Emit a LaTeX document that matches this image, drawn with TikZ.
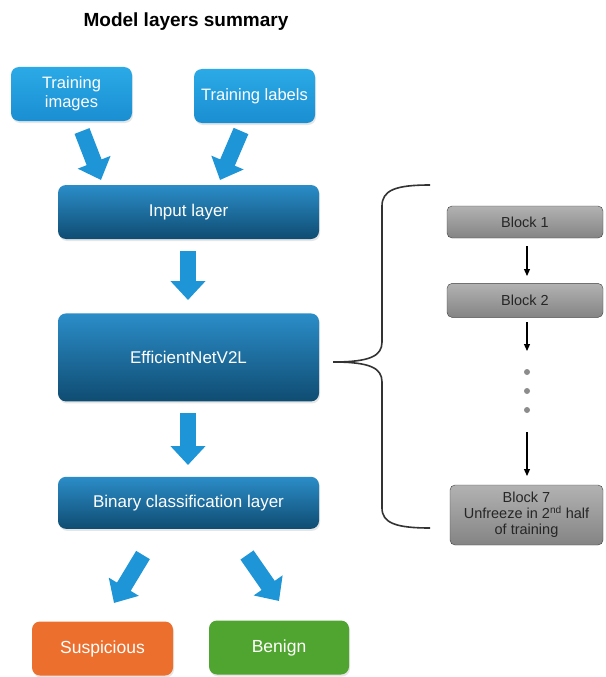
\documentclass[tikz,border=0pt]{standalone}
\usepackage{fontspec}
\setmainfont{Liberation Sans}
\usetikzlibrary{arrows.meta, positioning, shadows}

\definecolor{lightblueTop}{HTML}{2BAAE6}
\definecolor{lightblueBot}{HTML}{1A8ED2}
\definecolor{darkblueTop}{HTML}{2B8DC8}
\definecolor{darkblueBot}{HTML}{0F4C72}
\definecolor{greyTop}{HTML}{B2B2B2}
\definecolor{greyBot}{HTML}{848484}
\definecolor{fatblue}{HTML}{1E95D6}
\definecolor{susporange}{HTML}{EC6F2D}
\definecolor{benigngreen}{HTML}{4FA52F}

\tikzset{
  inputbox/.style={rounded corners=8pt, top color=lightblueTop, bottom color=lightblueBot,
    text=white, font=\fontsize{16.5}{19}\selectfont, align=center,
    minimum width=121pt, minimum height=54pt,
    drop shadow={opacity=0.2, shadow xshift=1pt, shadow yshift=-2pt}},
  layerbox/.style={rounded corners=8pt, top color=darkblueTop, bottom color=darkblueBot,
    text=white, font=\fontsize{17}{19}\selectfont, align=center, minimum width=261pt,
    drop shadow={opacity=0.2, shadow xshift=1pt, shadow yshift=-2pt}},
  outbox/.style={rounded corners=8pt, text=white, font=\fontsize{17.5}{20}\selectfont,
    minimum width=141pt, minimum height=54pt,
    drop shadow={opacity=0.2, shadow xshift=1pt, shadow yshift=-2pt}},
  blockbox/.style={rounded corners=5pt, draw=black!75, top color=greyTop, bottom color=greyBot,
    text=black!85, font=\fontsize{14.5}{16}\selectfont, align=center, minimum width=156pt,
    inner sep=1pt},
  fatarrow/.style={draw=fatblue, line width=16pt, -{Triangle[width=34pt,length=19pt]}},
  thinarrow/.style={draw=black, line width=1.2pt, -{Triangle[width=6pt,length=7pt]}},
  bracestyle/.style={draw=black!80, line width=1.6pt}
}

\begin{document}
\begin{tikzpicture}[x=1pt, y=-1pt]
    \useasboundingbox (0,0) rectangle (605,677);

    \node [font=\fontsize{19}{21}\selectfont\bfseries] (title) at (186,22) {Model layers summary};

    % inputs
    \node [inputbox] (img) at (71.5,94) {Training\\images};
    \node [inputbox] (lbl) at (254.5,96) {Training labels};

    % main stack
    \node [layerbox, minimum height=54pt] (input) at (188.5,212) {Input layer};
    \node [layerbox, minimum height=88pt] (eff) [below=74pt of input] {EfficientNetV2L};
    \node [layerbox, minimum height=52pt] (bin) [below=75pt of eff] {Binary classification layer};

    % outputs
    \node [outbox, fill=susporange] (susp) at (102.5,648.5) {Suspicious};
    \node [outbox, fill=benigngreen, minimum width=140pt] (ben) at (279,647.5) {Benign};

    % fat arrows
    \coordinate (a1s) at (82,131);
    \coordinate (a1e) at (101,180);
    \coordinate (a2s) at (241,131);
    \coordinate (a2e) at (220,180);
    \coordinate (a3s) at (188,251);
    \coordinate (a3e) at (188,300);
    \coordinate (a4s) at (188,413);
    \coordinate (a4e) at (188,465);
    \coordinate (a5s) at (143,555);
    \coordinate (a5e) at (114,603);
    \coordinate (a6s) at (247,555);
    \coordinate (a6e) at (279,601);
    \path [fatarrow] (a1s) -- (a1e);
    \path [fatarrow] (a2s) -- (a2e);
    \path [fatarrow] (a3s) -- (a3e);
    \path [fatarrow] (a4s) -- (a4e);
    \path [fatarrow] (a5s) -- (a5e);
    \path [fatarrow] (a6s) -- (a6e);

    % blocks of the backbone
    \node [blockbox, minimum height=32pt] (b1) at (525,222) {Block 1};
    \node [blockbox, minimum height=34pt] (b2) [below=45pt of b1] {Block 2};
    \node [blockbox, minimum height=60pt, minimum width=153pt] (b7) at (526.5,515)
        {Block 7\\Unfreeze in 2\textsuperscript{nd} half\\of training};

    \coordinate (t1s) at (527,246);
    \coordinate (t1e) at (527,276);
    \coordinate (t2s) at (527,322);
    \coordinate (t2e) at (527,351);
    \coordinate (t3s) at (527,432);
    \coordinate (t3e) at (527,476);
    \draw [thinarrow] (t1s) -- (t1e);
    \draw [thinarrow] (t2s) -- (t2e);
    \draw [thinarrow] (t3s) -- (t3e);
    \coordinate (d1) at (527,372);
    \coordinate (d2) at (527,391);
    \coordinate (d3) at (527,410);
    \foreach \d in {d1,d2,d3}
        \fill [black!45] (\d) circle (3pt);

    % brace
    \coordinate (bt) at (430,185);
    \coordinate (bm) at (333,362);
    \coordinate (bb) at (430,528);
    \path [bracestyle] (bt) .. controls (396,185) and (382,190) .. (382,206)
        -- (382,342) .. controls (382,356) and (370,362) .. (bm)
        .. controls (370,362) and (382,368) .. (382,382)
        -- (382,508) .. controls (382,523) and (396,528) .. (bb);
\end{tikzpicture}
\end{document}
